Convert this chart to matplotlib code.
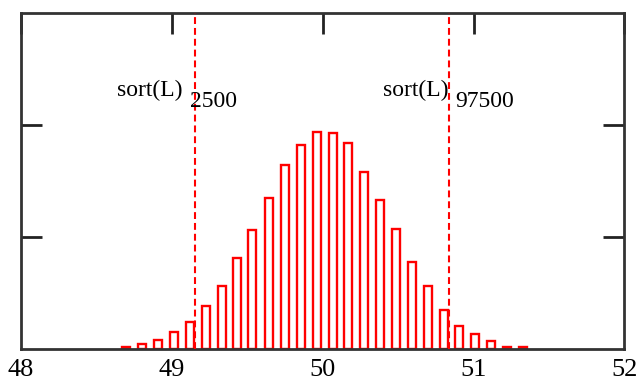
import numpy as np
import matplotlib
matplotlib.use('Agg')
import matplotlib.pyplot as plt
import matplotlib.transforms as mtransforms


FONT = 'Liberation Serif'
RED = '#ff0000'

# histogram of bootstrap means (bin left edges and counts)
bin_left = [48.669, 48.775, 48.881, 48.989, 49.097, 49.203, 49.309, 49.404,
            49.507, 49.616, 49.724, 49.830, 49.938, 50.044, 50.139, 50.247,
            50.353, 50.459, 50.567, 50.673, 50.781, 50.876, 50.980, 51.090,
            51.196, 51.302]
counts = [120, 225, 415, 790, 1237, 1933, 2826, 4094,
          5335, 6777, 8223, 9129, 9723, 9652, 9219, 7937,
          6688, 5366, 3906, 2850, 1750, 1036, 690, 400,
          125, 125]

# 2.5% and 97.5% points of the sorted sample
lower = 49.153
upper = 50.835
lower_sub = '2500'
upper_sub = '97500'

x_ticks = [48, 49, 50, 51, 52]
y_ticks = [5000, 10000]


fig = plt.figure(figsize=(6.44, 3.80), dpi=100)
ax = fig.add_axes([0.0321, 0.0803, 0.9376, 0.8847])

ax.bar(bin_left, counts, width=0.053, align='edge', fill=False,
       edgecolor=RED, linewidth=1.7, zorder=2)

for xv in (lower, upper):
    ax.axvline(xv, color=RED, linewidth=1.5, linestyle=(0, (3.3, 1.9)), zorder=3)

ax.set_xlim(48, 52)
ax.set_ylim(0, 15000)
ax.set_xticks(x_ticks)
ax.set_xticklabels([str(t) for t in x_ticks], fontfamily=FONT, fontsize=19)
ax.set_yticks(y_ticks)
ax.set_yticklabels([])

# ticks inside, top and both sides, like the original
ax.tick_params(axis='x', direction='in', length=15, width=2, color='#222222',
               top=True, bottom=False, labelbottom=True, pad=7)
ax.tick_params(axis='y', direction='in', length=15, width=2, color='#222222',
               left=True, right=True, labelleft=False)

for sp in ax.spines.values():
    sp.set_linewidth(2)
    sp.set_color('#333333')

# labels: sort(L) with subscript index
trans = mtransforms.blended_transform_factory(ax.transData, ax.transAxes)
for xv, sub, dx_main, dx_sub in ((lower, lower_sub, -0.515, -0.032),
                                 (upper, upper_sub, -0.434, 0.041)):
    ax.text(xv + dx_main, 0.753, 'sort(L)', transform=trans, ha='left',
            va='baseline', fontfamily=FONT, fontsize=17, color='black')
    ax.text(xv + dx_sub, 0.721, sub, transform=trans, ha='left',
            va='baseline', fontfamily=FONT, fontsize=17, color='black')

fig.savefig('out.png', dpi=100)
